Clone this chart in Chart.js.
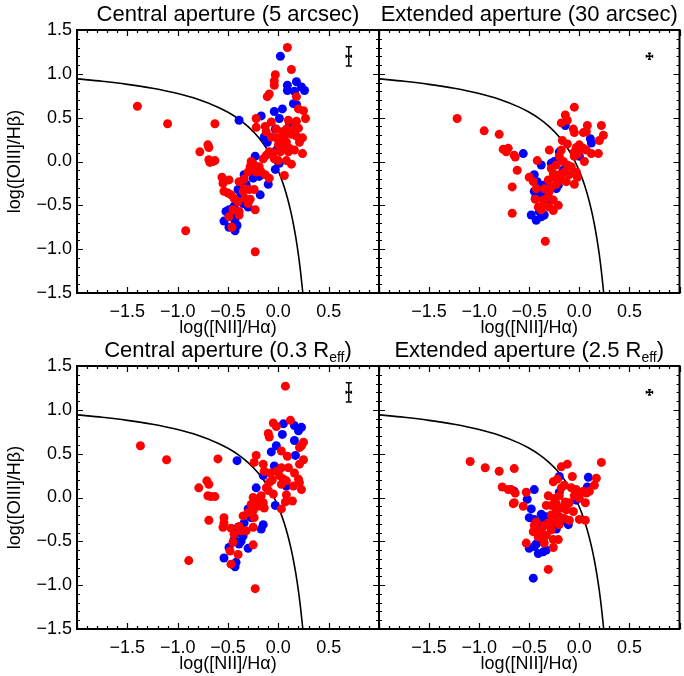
<!DOCTYPE html>
<html>
<head>
<meta charset="utf-8">
<script src="https://cdn.jsdelivr.net/npm/chart.js@4.4.0/dist/chart.umd.min.js"></script>
<style>
  body { margin: 0; background: #fff; }
  #wrap { position: relative; width: 684px; height: 676px; }
  #wrap canvas { position: absolute; left: 0; top: 0; }
</style>
</head>
<body>
<div id="wrap">
  <canvas id="p1" width="684" height="676"></canvas>
  <canvas id="p2" width="684" height="676"></canvas>
  <canvas id="p3" width="684" height="676"></canvas>
  <canvas id="p4" width="684" height="676"></canvas>
</div>
<script>
// Kewley et al. (2001) maximum starburst line
const curveX = [-2.0, -1.75, -1.5, -1.25, -1.0, -0.8, -0.6, -0.5, -0.4, -0.3, -0.2, -0.1, -0.05, 0.0, 0.025, 0.05, 0.075, 0.1, 0.125, 0.15, 0.175, 0.2, 0.22, 0.243];
const curveY = [0.943, 0.915, 0.880, 0.835, 0.775, 0.710, 0.620, 0.561, 0.489, 0.398, 0.280, 0.120, 0.017, -0.108, -0.181, -0.262, -0.354, -0.459, -0.578, -0.716, -0.878, -1.069, -1.25, -1.497];

// panel titles: text, subscript, tail
const titles = [
  ['Central aperture (5 arcsec)', '', ''],
  ['Extended aperture (30 arcsec)', '', ''],
  ['Central aperture (0.3 R', 'eff', ')'],
  ['Extended aperture (2.5 R', 'eff', ')']
];

// typical error bar [x, y, dx, dy] per panel
const errBars = [
  [0.7, 1.2, 0.025, 0.11],
  [0.7, 1.2, 0.03, 0.035],
  [0.7, 1.2, 0.025, 0.11],
  [0.7, 1.2, 0.03, 0.03]
];

// central aperture, 5 arcsec
const p1Red = [[0.09,1.30],[0.13,1.05],[-0.03,0.99],[-0.04,0.92],[-0.04,0.87],[-0.09,0.77],[-0.11,0.74],[0.18,0.74],[0.20,0.60],[0.25,0.58],[0.27,0.49],[-0.22,0.49],[-0.22,0.39],[-0.13,0.40],[-0.07,0.45],[0.10,0.47],[0.18,0.46],[-0.63,0.43],[-0.12,0.34],[-0.02,0.37],[0.04,0.34],[0.08,0.37],[0.16,0.39],[0.20,0.38],[0.06,0.30],[0.13,0.31],[0.18,0.29],[0.24,0.27],[-0.07,0.28],[-0.02,0.27],[0.03,0.25],[0.08,0.22],[0.21,0.22],[0.00,0.19],[0.06,0.17],[0.11,0.15],[0.16,0.13],[-0.70,0.19],[-0.69,0.16],[-0.78,0.11],[-0.09,0.11],[-0.05,0.10],[0.02,0.11],[0.10,0.11],[0.24,0.09],[-0.12,0.07],[-0.15,0.03],[-0.04,0.03],[0.00,0.01],[0.08,0.01],[0.13,-0.03],[-0.69,0.02],[-0.65,0.00],[-0.63,0.01],[-0.68,-0.01],[-0.27,0.00],[-0.24,-0.04],[-0.19,-0.06],[-0.28,-0.06],[-0.22,-0.12],[-0.17,-0.12],[-0.13,-0.15],[-0.30,-0.12],[-0.09,-0.19],[0.06,-0.16],[-0.56,-0.18],[-0.54,-0.23],[-0.49,-0.21],[-0.55,-0.25],[-0.34,-0.20],[-0.39,-0.23],[-0.34,-0.31],[-0.29,-0.32],[-0.24,-0.32],[-0.35,-0.34],[-0.54,-0.34],[-0.50,-0.36],[-0.47,-0.38],[-0.44,-0.42],[-0.33,-0.42],[-0.28,-0.43],[-0.40,-0.46],[-0.30,-0.48],[-0.23,-0.55],[-0.45,-0.55],[-0.39,-0.57],[-0.39,-0.61],[-0.49,-0.63],[-0.46,-0.75],[-0.23,-1.03],[-1.40,0.63],[-1.10,0.43],[-0.92,-0.79]];
const p1Blue = [[0.02,1.20],[0.18,0.91],[0.09,0.87],[0.23,0.85],[0.09,0.81],[0.16,0.80],[0.26,0.81],[0.15,0.66],[0.18,0.65],[0.04,0.60],[-0.04,0.57],[-0.17,0.52],[-0.39,0.47],[0.01,0.49],[-0.14,0.28],[-0.11,0.22],[-0.03,0.37],[0.11,0.44],[-0.02,0.13],[0.03,0.21],[-0.23,0.06],[-0.19,-0.17],[-0.10,-0.26],[0.01,-0.02],[-0.34,-0.15],[-0.25,-0.19],[-0.35,-0.23],[-0.32,-0.26],[-0.40,-0.32],[-0.37,-0.37],[-0.18,-0.38],[-0.42,-0.45],[-0.35,-0.48],[-0.30,-0.52],[-0.44,-0.51],[-0.49,-0.55],[-0.52,-0.57],[-0.54,-0.68],[-0.43,-0.69],[-0.41,-0.73],[-0.49,-0.75],[-0.43,-0.79],[-0.42,-0.63],[-0.03,-0.09]];

// extended aperture, 30 arcsec
const p2Red = [[-1.22,0.49],[-0.05,0.62],[-0.14,0.53],[-0.12,0.47],[-0.18,0.44],[0.08,0.41],[0.22,0.41],[-0.06,0.37],[-0.05,0.33],[0.04,0.33],[0.07,0.34],[0.24,0.30],[0.20,0.24],[-0.95,0.35],[-0.80,0.31],[-0.17,0.24],[-0.12,0.20],[0.00,0.19],[-0.03,0.16],[0.04,0.15],[0.07,0.13],[0.12,0.09],[0.19,0.09],[-0.01,0.09],[-0.05,0.11],[-0.05,0.06],[0.05,0.00],[-0.18,0.13],[-0.30,0.13],[-0.76,0.14],[-0.71,0.15],[-0.73,0.11],[-0.65,0.07],[-0.64,0.05],[-0.42,0.01],[-0.16,0.00],[-0.12,-0.04],[-0.23,-0.04],[-0.28,-0.08],[-0.08,-0.06],[-0.15,-0.12],[-0.03,-0.12],[-0.10,-0.15],[-0.02,-0.18],[-0.20,-0.15],[-0.25,-0.18],[-0.31,-0.21],[-0.17,-0.21],[-0.13,-0.23],[-0.23,-0.26],[-0.28,-0.29],[-0.05,-0.26],[-0.62,-0.10],[-0.50,-0.18],[-0.46,-0.23],[-0.43,-0.31],[-0.35,-0.31],[-0.30,-0.34],[-0.31,-0.40],[-0.36,-0.44],[-0.26,-0.44],[-0.35,-0.48],[-0.41,-0.52],[-0.38,-0.55],[-0.30,-0.52],[-0.21,-0.50],[-0.26,-0.56],[-0.44,-0.43],[-0.67,-0.29],[-0.67,-0.59],[-0.34,-0.91],[-0.20,0.06],[-0.26,-0.14]];
const p2Blue = [[-0.14,0.41],[0.11,0.26],[0.12,0.21],[-0.56,0.09],[-0.38,-0.04],[-0.28,-0.02],[-0.25,0.00],[-0.20,0.11],[-0.16,-0.10],[-0.45,-0.15],[-0.42,-0.23],[-0.40,-0.29],[-0.36,-0.27],[-0.45,-0.34],[-0.40,-0.38],[-0.33,-0.38],[-0.44,-0.42],[-0.28,-0.44],[-0.33,-0.50],[-0.40,-0.57],[-0.35,-0.61],[-0.48,-0.61],[-0.43,-0.67],[-0.38,-0.63],[0.00,0.06],[-0.21,-0.27],[-0.23,-0.31]];

// central aperture, 0.3 Reff
const p3Red = [[-1.37,0.59],[-1.11,0.43],[-0.60,0.44],[-0.79,0.11],[-0.71,0.19],[-0.69,0.15],[-0.70,0.02],[-0.67,0.01],[-0.63,0.01],[-0.69,-0.26],[-0.89,-0.72],[-0.23,-1.04],[0.07,1.27],[0.12,0.88],[-0.05,0.85],[-0.02,0.81],[-0.10,0.73],[-0.09,0.69],[-0.22,0.48],[-0.24,0.40],[-0.15,0.38],[-0.14,0.30],[-0.06,0.20],[-0.09,0.17],[-0.12,0.11],[-0.10,0.08],[-0.05,0.04],[-0.17,0.02],[-0.25,0.00],[-0.22,-0.04],[-0.15,-0.06],[-0.27,-0.08],[-0.20,-0.10],[-0.25,-0.15],[-0.14,-0.12],[-0.30,-0.17],[-0.35,-0.21],[-0.24,-0.23],[-0.54,-0.23],[-0.54,-0.29],[-0.55,-0.34],[-0.47,-0.35],[-0.39,-0.33],[-0.37,-0.38],[-0.44,-0.42],[-0.32,-0.38],[-0.25,-0.34],[-0.25,-0.54],[-0.45,-0.51],[-0.40,-0.65],[-0.47,-0.76],[-0.48,-0.61],[0.03,0.53],[0.09,0.47],[0.03,0.34],[0.10,0.34],[0.16,0.28],[0.21,0.38],[0.25,0.43],[0.23,0.59],[0.25,0.63],[0.21,0.57],[0.01,0.25],[0.05,0.21],[0.03,0.15],[0.08,0.19],[0.15,0.13],[0.20,0.21],[0.21,0.17],[0.23,0.09],[0.14,-0.04],[0.07,-0.05],[0.03,-0.13],[0.08,0.03],[-0.08,0.28],[-0.02,0.30]];
const p3Blue = [[-0.41,0.42],[0.05,0.84],[0.16,0.82],[0.23,0.80],[0.20,0.76],[0.04,0.72],[0.16,0.65],[-0.02,0.59],[-0.07,0.52],[0.17,0.48],[-0.04,0.36],[-0.15,0.25],[-0.22,0.11],[0.08,0.13],[-0.03,-0.09],[-0.15,-0.31],[-0.17,-0.36],[-0.30,-0.13],[-0.27,-0.23],[-0.34,-0.29],[-0.40,-0.34],[-0.44,-0.48],[-0.37,-0.50],[-0.49,-0.57],[-0.30,-0.58],[-0.39,-0.53],[-0.54,-0.69],[-0.42,-0.74],[-0.43,-0.79],[-0.35,-0.44],[-0.42,-0.41]];

// extended aperture, 2.5 Reff
const p4Red = [[-1.09,0.41],[-0.94,0.34],[-0.80,0.30],[-0.65,0.33],[-0.18,0.35],[-0.12,0.38],[0.22,0.40],[-0.07,0.24],[0.17,0.22],[0.15,0.14],[-0.26,0.18],[-0.22,0.21],[-0.15,0.14],[-0.18,0.11],[-0.77,0.12],[-0.71,0.09],[-0.68,0.09],[-0.64,0.05],[-0.53,0.06],[-0.65,-0.06],[-0.66,-0.07],[-0.56,-0.10],[-0.31,0.02],[-0.25,-0.01],[-0.20,0.02],[-0.08,0.11],[-0.03,0.09],[0.00,0.05],[0.04,0.07],[0.07,0.05],[0.10,0.07],[-0.05,0.02],[0.00,-0.01],[0.06,-0.06],[-0.14,-0.05],[-0.10,-0.06],[-0.23,-0.07],[-0.28,-0.09],[-0.33,-0.09],[-0.18,-0.12],[-0.13,-0.14],[-0.06,-0.16],[-0.23,-0.15],[-0.28,-0.20],[-0.20,-0.22],[-0.15,-0.24],[-0.10,-0.26],[0.00,-0.25],[0.06,-0.26],[-0.25,-0.28],[-0.31,-0.29],[-0.43,-0.28],[-0.45,-0.32],[-0.35,-0.32],[-0.20,-0.31],[-0.46,-0.39],[-0.38,-0.37],[-0.28,-0.37],[-0.33,-0.43],[-0.41,-0.45],[-0.36,-0.48],[-0.26,-0.48],[-0.21,-0.48],[-0.53,-0.52],[-0.35,-0.52],[-0.26,-0.57],[-0.31,-0.82],[-0.13,-0.10]];
const p4Blue = [[-0.65,0.07],[-0.45,0.09],[-0.52,-0.02],[-0.20,0.24],[0.09,0.23],[0.08,0.12],[-0.20,0.06],[-0.48,-0.13],[-0.50,-0.23],[-0.45,-0.25],[-0.38,-0.19],[-0.36,-0.24],[-0.41,-0.29],[-0.33,-0.22],[-0.15,-0.26],[-0.23,-0.36],[-0.40,-0.41],[-0.50,-0.58],[-0.43,-0.53],[-0.41,-0.64],[-0.36,-0.62],[-0.33,-0.60],[-0.38,-0.50],[-0.45,-0.56],[-0.46,-0.92],[-0.03,-0.03],[-0.11,-0.31]];

const FONT = "'Liberation Sans', Arial, Helvetica, sans-serif";

function fmt(v) {
  const s = Math.abs(v).toFixed(1);
  return v < -1e-9 ? '\u2212' + s : s;
}

// IDL-like frame with inward ticks on all four sides
const frameTicks = {
  id: 'frameTicks',
  afterDatasetsDraw(chart) {
    const { ctx, chartArea: a, scales: { x, y } } = chart;
    ctx.save();
    ctx.strokeStyle = '#000';
    ctx.lineWidth = 1.2;
    ctx.beginPath();
    for (let i = 0; i <= 30; i++) {
      const px = Math.round(x.getPixelForValue(-2 + i * 0.1)) + 0.5;
      const len = i % 5 === 0 ? 6 : 3;
      ctx.moveTo(px, a.bottom); ctx.lineTo(px, a.bottom - len);
      ctx.moveTo(px, a.top); ctx.lineTo(px, a.top + len);
    }
    for (let i = 0; i <= 30; i++) {
      const py = Math.round(y.getPixelForValue(-1.5 + i * 0.1)) + 0.5;
      const len = i % 5 === 0 ? 6 : 3;
      ctx.moveTo(a.left, py); ctx.lineTo(a.left + len, py);
      ctx.moveTo(a.right, py); ctx.lineTo(a.right - len, py);
    }
    ctx.stroke();
    ctx.lineWidth = 2;
    ctx.strokeRect(a.left, a.top, a.right - a.left, a.bottom - a.top);
    ctx.restore();
  }
};

const errBar = {
  id: 'errBar',
  afterDatasetsDraw(chart, args, opts) {
    const { ctx, scales: { x, y } } = chart;
    const [ex, ey, dx, dy] = opts.bar;
    const cx = x.getPixelForValue(ex), cy = y.getPixelForValue(ey);
    const x0 = x.getPixelForValue(ex - dx), x1 = x.getPixelForValue(ex + dx);
    const y0 = y.getPixelForValue(ey - dy), y1 = y.getPixelForValue(ey + dy);
    const cap = Math.abs(y1 - y0) > 10 ? 3 : 1.5;
    ctx.save();
    ctx.strokeStyle = '#000';
    ctx.lineWidth = 1.5;
    ctx.beginPath();
    ctx.moveTo(cx, y0); ctx.lineTo(cx, y1);
    ctx.moveTo(cx - cap, y0); ctx.lineTo(cx + cap, y0);
    ctx.moveTo(cx - cap, y1); ctx.lineTo(cx + cap, y1);
    ctx.moveTo(x0, cy); ctx.lineTo(x1, cy);
    ctx.moveTo(x0, cy - 1.5); ctx.lineTo(x0, cy + 1.5);
    ctx.moveTo(x1, cy - 1.5); ctx.lineTo(x1, cy + 1.5);
    ctx.stroke();
    ctx.restore();
  }
};

// panel title with optional subscript
const panelTitle = {
  id: 'panelTitle',
  afterDraw(chart, args, opts) {
    const { ctx, chartArea: a } = chart;
    const [main, sub, tail] = opts.text;
    const big = '22px ' + FONT, small = '14px ' + FONT;
    ctx.save();
    ctx.fillStyle = '#000';
    ctx.textBaseline = 'alphabetic';
    ctx.textAlign = 'left';
    ctx.font = big;
    const w1 = ctx.measureText(main).width, w3 = ctx.measureText(tail).width;
    ctx.font = small;
    const w2 = ctx.measureText(sub).width;
    let px = (a.left + a.right) / 2 - (w1 + w2 + w3) / 2;
    const base = a.top - 9;
    ctx.font = big;
    ctx.fillText(main, px, base);
    px += w1;
    ctx.font = small;
    ctx.fillText(sub, px, base + 5);
    px += w2;
    ctx.font = big;
    ctx.fillText(tail, px, base);
    ctx.restore();
  }
};

const curve = curveX.map((v, i) => ({ x: v, y: curveY[i] }));
const toPts = arr => arr.map(p => ({ x: p[0], y: p[1] }));

function makePanel(id, idx, red, blue, box, showY) {
  new Chart(document.getElementById(id), {
    type: 'scatter',
    data: {
      datasets: [
        { data: toPts(red), backgroundColor: '#ff0000', borderWidth: 0, pointRadius: 4.5, order: 1 },
        { data: toPts(blue), backgroundColor: '#0000ff', borderWidth: 0, pointRadius: 4.5, order: 2 },
        { data: curve, showLine: true, fill: false, borderColor: '#000', borderWidth: 1.6,
          pointRadius: 0, cubicInterpolationMode: 'monotone', order: 3 }
      ]
    },
    options: {
      responsive: false,
      animation: false,
      events: [],
      layout: { padding: { left: 0, top: box.top, right: 684 - box.right, bottom: 676 - box.bottom - 46 } },
      plugins: {
        legend: { display: false },
        tooltip: { enabled: false },
        errBar: { bar: errBars[idx] },
        panelTitle: { text: titles[idx] }
      },
      scales: {
        x: {
          type: 'linear', min: -2, max: 1,
          grid: { display: false, drawTicks: false }, border: { display: false },
          ticks: {
            stepSize: 0.5, padding: 8, color: '#000', autoSkip: false, maxRotation: 0,
            font: { family: FONT, size: 18 },
            callback: v => (Math.abs(v + 2) < 1e-9 || Math.abs(v - 1) < 1e-9) ? '' : fmt(v)
          },
          title: { display: true, text: 'log([NII]/H\u03b1)', color: '#000', padding: 0, font: { family: FONT, size: 18 } },
          afterFit: s => { s.height = 46; s.paddingLeft = 0; s.paddingRight = 0; }
        },
        y: {
          type: 'linear', min: -1.5, max: 1.5,
          grid: { display: false, drawTicks: false }, border: { display: false },
          ticks: {
            display: showY, stepSize: 0.5, padding: 5, color: '#000', autoSkip: false,
            font: { family: FONT, size: 18 }, callback: v => fmt(v)
          },
          title: { display: showY, text: 'log([OIII]/H\u03b2)', color: '#000', padding: { top: 4, bottom: 0 }, font: { family: FONT, size: 18 } },
          afterFit: s => { s.width = box.left; s.paddingTop = 0; s.paddingBottom = 0; }
        }
      }
    },
    plugins: [frameTicks, errBar, panelTitle]
  });
}

makePanel('p1', 0, p1Red, p1Blue, { left: 77, right: 379, top: 30, bottom: 293 }, true);
makePanel('p2', 1, p2Red, p2Blue, { left: 379, right: 682, top: 30, bottom: 293 }, false);
makePanel('p3', 2, p3Red, p3Blue, { left: 77, right: 379, top: 366, bottom: 629 }, true);
makePanel('p4', 3, p4Red, p4Blue, { left: 379, right: 682, top: 366, bottom: 629 }, false);
</script>
</body>
</html>
